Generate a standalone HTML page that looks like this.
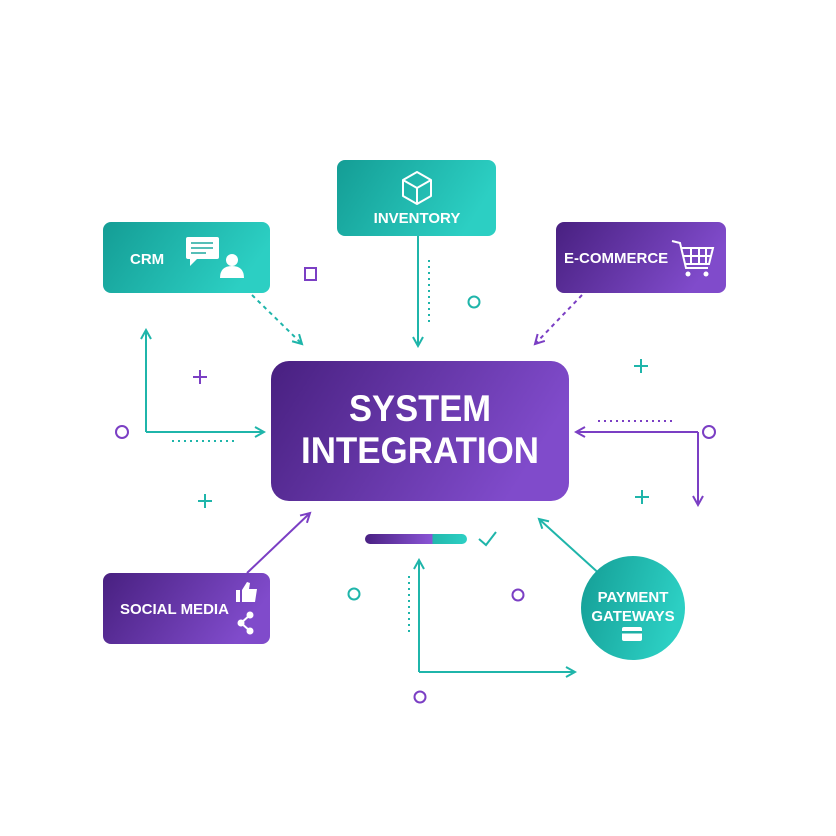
<!DOCTYPE html>
<html><head><meta charset="utf-8"><style>html,body{margin:0;padding:0;background:#fff}svg{display:block}</style></head>
<body>
<svg width="836" height="836" viewBox="0 0 836 836" xmlns="http://www.w3.org/2000/svg" font-family="Liberation Sans, sans-serif">
<defs>
<linearGradient id="tl" x1="0" y1="0" x2="1" y2="0.3"><stop offset="0" stop-color="#149d95"/><stop offset="1" stop-color="#2ccfc3"/></linearGradient>
<linearGradient id="pp" x1="0" y1="0" x2="1" y2="0.3"><stop offset="0" stop-color="#482080"/><stop offset="1" stop-color="#804bcb"/></linearGradient>
<linearGradient id="bar" x1="0" x2="1"><stop offset="0" stop-color="#4a2183"/><stop offset="0.66" stop-color="#8a55d6"/><stop offset="0.66" stop-color="#22b8ad"/><stop offset="1" stop-color="#2dd0c4"/></linearGradient>
<marker id="at" viewBox="0 0 12 12" refX="10" refY="6" markerWidth="12" markerHeight="12" markerUnits="userSpaceOnUse" orient="auto"><path d="M1 1 L10 6 L1 11" fill="none" stroke="#1fb5aa" stroke-width="2"/></marker>
<marker id="ap" viewBox="0 0 12 12" refX="10" refY="6" markerWidth="12" markerHeight="12" markerUnits="userSpaceOnUse" orient="auto"><path d="M1 1 L10 6 L1 11" fill="none" stroke="#7b3fc4" stroke-width="2"/></marker>
</defs>

<g fill="none" stroke-width="2">
<path d="M252 295 L302 344" stroke="#1fb5aa" stroke-dasharray="4 4" marker-end="url(#at)"/>
<path d="M418 236 L418 346" stroke="#1fb5aa" marker-end="url(#at)"/>
<path d="M429 260 L429 326" stroke="#1fb5aa" stroke-dasharray="2 4"/>
<path d="M582 295 L535 344" stroke="#7b3fc4" stroke-dasharray="4 4" marker-end="url(#ap)"/>
<path d="M146 432 L146 330" stroke="#1fb5aa" marker-end="url(#at)"/>
<path d="M146 432 L264 432" stroke="#1fb5aa" marker-end="url(#at)"/>
<path d="M172 441 L238 441" stroke="#1fb5aa" stroke-dasharray="2 4"/>
<path d="M698 432 L576 432" stroke="#7b3fc4" marker-end="url(#ap)"/>
<path d="M698 432 L698 505" stroke="#7b3fc4" marker-end="url(#ap)"/>
<path d="M598 421 L672 421" stroke="#7b3fc4" stroke-dasharray="2 4"/>
<path d="M247 573 L310 513" stroke="#7b3fc4" marker-end="url(#ap)"/>
<path d="M603 577 L539 519" stroke="#1fb5aa" marker-end="url(#at)"/>
<path d="M419 672 L419 560" stroke="#1fb5aa" marker-end="url(#at)"/>
<path d="M419 672 L575 672" stroke="#1fb5aa" marker-end="url(#at)"/>
<path d="M409 576 L409 632" stroke="#1fb5aa" stroke-dasharray="2 4"/>
<path d="M479 539 L486 545 L496 532" stroke="#1fb5aa"/>
</g>

<g fill="none" stroke-width="2">
<rect x="305" y="268" width="11" height="12" stroke="#7b3fc4"/>
<circle cx="474" cy="302" r="5.5" stroke="#1fb5aa"/>
<circle cx="122" cy="432" r="6" stroke="#7b3fc4"/>
<circle cx="709" cy="432" r="6" stroke="#7b3fc4"/>
<circle cx="354" cy="594" r="5.5" stroke="#1fb5aa"/>
<circle cx="518" cy="595" r="5.5" stroke="#7b3fc4"/>
<circle cx="420" cy="697" r="5.5" stroke="#7b3fc4"/>
<path d="M641 359 V373 M634 366 H648" stroke="#1fb5aa"/>
<path d="M200 370 V384 M193 377 H207" stroke="#7b3fc4"/>
<path d="M205 494 V508 M198 501 H212" stroke="#1fb5aa"/>
<path d="M642 490 V504 M635 497 H649" stroke="#1fb5aa"/>
</g>

<rect x="365" y="534" width="102" height="10" rx="5" fill="url(#bar)"/>

<rect x="271" y="361" width="298" height="140" rx="18" fill="url(#pp)"/>
<text x="420" y="421" text-anchor="middle" font-size="37" font-weight="bold" fill="#fff" textLength="142" lengthAdjust="spacingAndGlyphs">SYSTEM</text>
<text x="420" y="463" text-anchor="middle" font-size="37" font-weight="bold" fill="#fff" textLength="238" lengthAdjust="spacingAndGlyphs">INTEGRATION</text>

<rect x="103" y="222" width="167" height="71" rx="8" fill="url(#tl)"/>
<text x="130" y="264" font-size="15" font-weight="bold" fill="#fff">CRM</text>
<rect x="186" y="237" width="33" height="22" rx="2" fill="#fff"/>
<path d="M190 258 L190 266 L198 258Z" fill="#fff"/>
<path d="M191 243 H213 M191 248 H213 M191 253 H206" stroke="#1fa89f" stroke-width="1.6"/>
<circle cx="232" cy="260" r="6" fill="#fff"/>
<path d="M220 278 Q220 266 232 266 Q244 266 244 278Z" fill="#fff"/>

<rect x="337" y="160" width="159" height="76" rx="8" fill="url(#tl)"/>
<g fill="none" stroke="#fff" stroke-width="2" stroke-linejoin="round">
<path d="M417 172 L431 180 L431 196 L417 204 L403 196 L403 180Z"/>
<path d="M403 180 L417 188 L431 180 M417 188 V204"/>
</g>
<text x="417" y="223" text-anchor="middle" font-size="15" font-weight="bold" fill="#fff">INVENTORY</text>

<rect x="556" y="222" width="170" height="71" rx="8" fill="url(#pp)"/>
<text x="564" y="263" font-size="15" font-weight="bold" fill="#fff">E-COMMERCE</text>
<g fill="none" stroke="#fff" stroke-width="2">
<path d="M672 241 L680 243 L686 268 L708 268"/>
<path d="M681 248 L713 248 L709 264 L685 264"/>
<path d="M691 248 V264 M699 248 V264 M706 248 V264 M683 256 H711"/>
</g>
<circle cx="688" cy="274" r="2.5" fill="#fff"/><circle cx="706" cy="274" r="2.5" fill="#fff"/>

<rect x="103" y="573" width="167" height="71" rx="8" fill="url(#pp)"/>
<text x="120" y="614" font-size="15" font-weight="bold" fill="#fff">SOCIAL MEDIA</text>
<rect x="236" y="590" width="4" height="12" fill="#fff"/>
<path d="M242 602 L242 590 L247 582 L250 583 L249 589 L257 589 L255 602Z" fill="#fff"/>
<g fill="#fff"><circle cx="250" cy="615" r="3.5"/><circle cx="241" cy="623" r="3.5"/><circle cx="250" cy="631" r="3.5"/></g>
<path d="M250 615 L241 623 L250 631" stroke="#fff" stroke-width="2" fill="none"/>

<circle cx="633" cy="608" r="52" fill="url(#tl)"/>
<text x="633" y="602" text-anchor="middle" font-size="15" font-weight="bold" fill="#fff">PAYMENT</text>
<text x="633" y="621" text-anchor="middle" font-size="15" font-weight="bold" fill="#fff">GATEWAYS</text>
<rect x="622" y="627" width="20" height="14" rx="2" fill="#fff"/>
<rect x="622" y="631" width="20" height="2.5" fill="#1fb0a6"/>
</svg>
</body></html>
